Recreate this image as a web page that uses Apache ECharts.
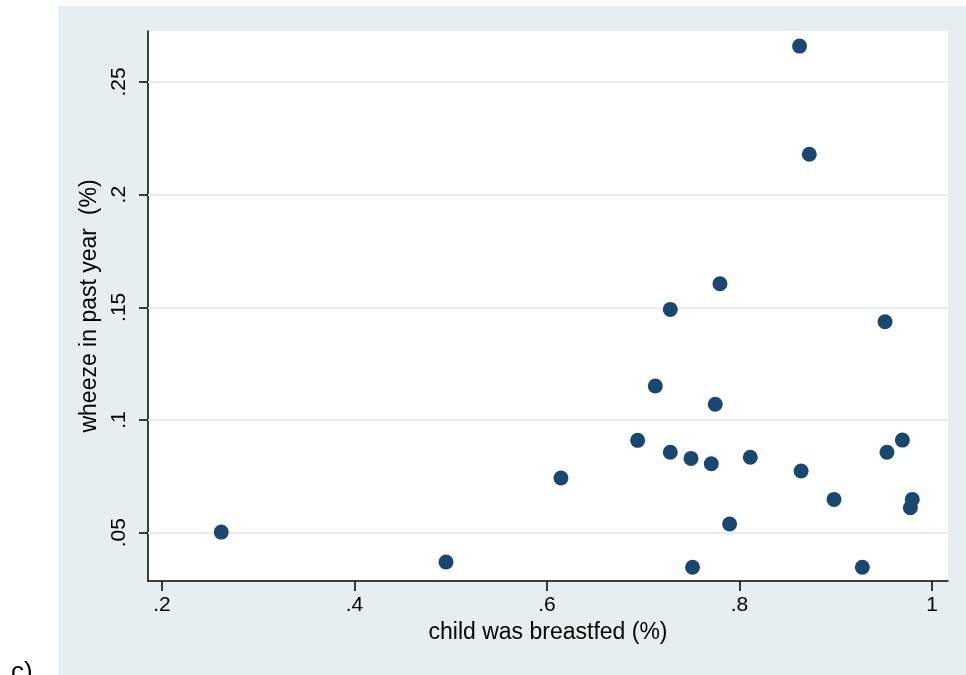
<!DOCTYPE html>
<html>
<head>
<meta charset="utf-8">
<script src="https://cdn.jsdelivr.net/npm/echarts@6/dist/echarts.min.js"></script>
<style>
    html, body { margin: 0; padding: 0; background: #fff; }
    #chart { width: 966px; height: 675px; }
</style>
</head>
<body>
<div id="chart"></div>
<script>
// breastfed share (x) vs wheeze share (y), one dot per study area
const breastfed = [
    0.2616, 0.4951, 0.6145, 0.6942, 0.7125, 0.7281, 0.7281, 0.7496, 0.7512,
    0.7707, 0.7748, 0.7797, 0.7897, 0.8112, 0.8624, 0.8640, 0.8725, 0.8982,
    0.9276, 0.9512, 0.9532, 0.9692, 0.9775, 0.9795,
];
const wheeze = [
    0.0503, 0.0370, 0.0743, 0.0910, 0.1151, 0.1491, 0.0857, 0.0830, 0.0347,
    0.0806, 0.1070, 0.1605, 0.0539, 0.0835, 0.2659, 0.0774, 0.2179, 0.0648,
    0.0347, 0.1436, 0.0857, 0.0911, 0.0611, 0.0648,
];
const xTicks = [0.2, 0.4, 0.6, 0.8, 1];
const yTicks = [0.05, 0.1, 0.15, 0.2, 0.25];

const fmt = (v) => String(v).replace(/^0(?=\.)/, "");

const points = breastfed.map((x, i) => [x, wheeze[i]]);

const font = "'Liberation Sans', Arial, sans-serif";
const axisColor = "#000";
const gridColor = "#e6edf1";
const bgColor = "#e7eef1";

let myChart = echarts.init(document.getElementById("chart"));
myChart.setOption({
    animation: false,
    backgroundColor: "#fff",
    textStyle: { fontFamily: font },
    graphic: [
        {
            type: "rect",
            z: -10,
            shape: { x: 58, y: 6, width: 908, height: 669 },
            style: { fill: bgColor },
        },
        {
            type: "text",
            left: 11,
            top: 660,
            style: { text: "c)", fontSize: 26, fontFamily: font, fill: "#000" },
        },
    ],
    grid: {
        left: 148,
        right: 18,
        top: 31,
        bottom: 94,
        show: true,
        backgroundColor: "#fff",
        borderWidth: 0,
    },
    xAxis: {
        type: "value",
        min: 0.1855,
        max: 1.0166,
        name: "child was breastfed (%)",
        nameLocation: "middle",
        nameGap: 39,
        nameTextStyle: { fontSize: 23, color: "#000", fontFamily: font },
        axisLine: { show: true, onZero: false, lineStyle: { color: axisColor, width: 1.5 } },
        axisTick: {
            show: true,
            length: 10,
            customValues: xTicks,
            lineStyle: { color: axisColor, width: 1.5 },
        },
        axisLabel: {
            customValues: xTicks,
            formatter: fmt,
            fontSize: 21,
            color: "#000",
            margin: 14,
            fontFamily: font,
        },
        splitLine: { show: false },
    },
    yAxis: {
        type: "value",
        min: 0.0286,
        max: 0.2726,
        name: "wheeze in past year  (%)",
        nameLocation: "middle",
        nameGap: 33,
        nameTextStyle: { fontSize: 23, color: "#000", fontFamily: font },
        axisLine: { show: true, onZero: false, lineStyle: { color: axisColor, width: 1.5 } },
        axisTick: {
            show: true,
            length: 9,
            customValues: yTicks,
            lineStyle: { color: axisColor, width: 1.5 },
        },
        axisLabel: {
            customValues: yTicks,
            formatter: fmt,
            rotate: 90,
            fontSize: 21,
            color: "#000",
            margin: 18,
            fontFamily: font,
        },
        splitLine: { show: false },
    },
    series: [
        {
            // horizontal grid lines at the y ticks
            type: "line",
            data: [],
            z: 1,
            markLine: {
                silent: true,
                z: 1,
                symbol: "none",
                label: { show: false },
                lineStyle: { color: gridColor, width: 2, type: "solid" },
                data: yTicks.map((v) => ({ yAxis: v })),
            },
        },
        {
            type: "scatter",
            data: points,
            z: 10,
            symbol: "circle",
            symbolSize: 15,
            itemStyle: { color: "#1a476f", opacity: 1 },
        },
    ],
});
</script>
</body>
</html>
